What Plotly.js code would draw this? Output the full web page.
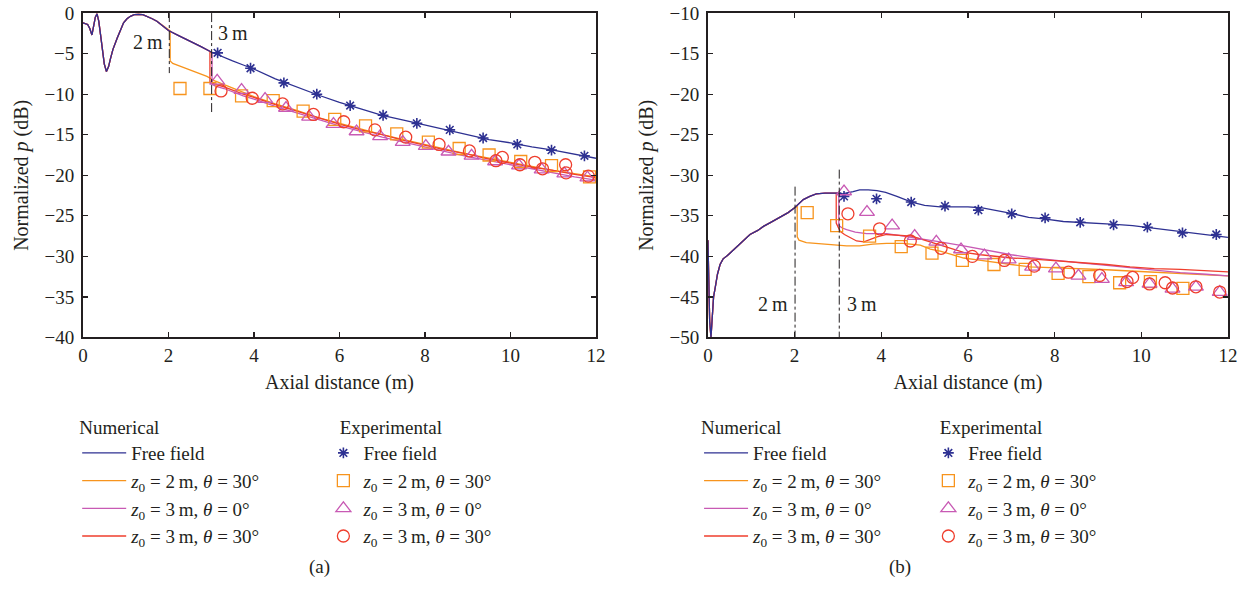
<!DOCTYPE html>
<html>
<head>
<meta charset="utf-8">
<script src="https://cdn.plot.ly/plotly-3.0.1.min.js"></script>
<style>html,body{margin:0;padding:0;background:#fff;}#chart{width:1251px;height:595px;}</style>
</head>
<body>
<div id="chart"></div>
<script>
// ---------- Panel (a) numerical ----------
const aPreX = [0, 0.06, 0.11, 0.16, 0.21, 0.25, 0.29, 0.33, 0.37, 0.41, 0.45, 0.5, 0.55, 0.6, 0.64, 0.7, 0.8, 0.88, 0.95, 1.03, 1.11, 1.2, 1.3, 1.4, 1.5, 1.62, 1.73, 1.86, 2.0];
const aPreY = [-1.2, -1.3, -1.4, -1.9, -2.7, -1.6, -0.5, -0.1, -1.0, -2.6, -4.3, -6.3, -7.2, -6.6, -5.7, -4.5, -3.1, -2.0, -1.2, -0.7, -0.4, -0.2, -0.15, -0.2, -0.4, -0.7, -1.0, -1.5, -2.15];
const aMidX = [2.25, 2.5, 2.75, 3.0];
const aMidY = [-2.8, -3.4, -4.1, -4.8];
const aFreeTailX = [3.25, 3.5, 3.75, 4.0, 4.5, 5.0, 5.5, 6.0, 6.5, 7.0, 7.5, 8.0, 8.5, 9.0, 9.5, 10.0, 10.5, 11.0, 11.5, 12.0];
const aFreeTailY = [-5.4, -5.9, -6.4, -6.9, -8.1, -9.1, -10.1, -11.0, -11.8, -12.6, -13.2, -13.8, -14.4, -15.0, -15.6, -16.0, -16.5, -16.9, -17.4, -17.9];
const aZ2T30TailX = [2.04, 2.04, 2.1, 2.3, 2.5, 2.7, 2.9, 3.1, 3.3, 3.5, 3.75, 4.0, 4.5, 5.0, 5.5, 6.0, 6.5, 7.0, 7.5, 8.0, 8.5, 9.0, 9.5, 10.0, 10.5, 11.0, 11.5, 12.0];
const aZ2T30TailY = [-2.2, -5.9, -6.2, -6.6, -7.0, -7.4, -7.8, -8.4, -8.8, -9.3, -9.8, -10.3, -11.2, -12.0, -12.9, -13.6, -14.3, -15.0, -15.6, -16.2, -16.8, -17.4, -17.9, -18.4, -18.9, -19.4, -19.8, -20.2];
const aZ3T0TailX = [3.02, 3.02, 3.1, 3.3, 3.5, 3.75, 4.0, 4.5, 5.0, 5.5, 6.0, 6.5, 7.0, 7.5, 8.0, 8.5, 9.0, 9.5, 10.0, 10.5, 11.0, 11.5, 12.0];
const aZ3T0TailY = [-4.85, -8.8, -9.0, -9.3, -9.7, -10.2, -10.6, -11.5, -12.3, -13.1, -13.9, -14.6, -15.3, -15.9, -16.5, -17.1, -17.7, -18.2, -18.7, -19.2, -19.7, -20.2, -20.6];
const aZ3T30TailX = [2.97, 2.97, 3.1, 3.3, 3.5, 3.75, 4.0, 4.5, 5.0, 5.5, 6.0, 6.5, 7.0, 7.5, 8.0, 8.5, 9.0, 9.5, 10.0, 10.5, 11.0, 11.5, 12.0];
const aZ3T30TailY = [-4.75, -8.5, -8.8, -9.1, -9.5, -10.0, -10.4, -11.3, -12.1, -12.9, -13.7, -14.4, -15.0, -15.7, -16.3, -16.9, -17.4, -18.0, -18.5, -19.0, -19.4, -19.9, -20.3];

// ---------- Panel (a) experimental ----------
const aExpFreeX = [3.15, 3.92, 4.70, 5.47, 6.25, 7.02, 7.81, 8.58, 9.36, 10.16, 10.96, 11.73];
const aExpFreeY = [-4.9, -6.8, -8.6, -10.0, -11.4, -12.6, -13.6, -14.4, -15.4, -16.2, -16.9, -17.6];
const aExpZ2T30X = [2.27, 2.97, 3.71, 4.45, 5.15, 5.89, 6.61, 7.34, 8.08, 8.80, 9.50, 10.24, 10.96, 11.85];
const aExpZ2T30Y = [-9.3, -9.3, -10.2, -10.8, -12.1, -13.1, -13.9, -14.9, -15.9, -16.7, -17.5, -18.3, -18.8, -20.2];
const aExpZ3T0X = [3.14, 3.71, 4.26, 4.75, 5.29, 5.86, 6.40, 6.95, 7.48, 8.02, 8.55, 9.09, 9.64, 10.20, 10.73, 11.26, 11.80];
const aExpZ3T0Y = [-8.35, -9.5, -10.6, -11.7, -12.8, -13.7, -14.6, -15.2, -15.9, -16.4, -17.1, -17.6, -18.3, -18.8, -19.3, -19.8, -20.3];
const aExpZ3T30X = [3.23, 3.96, 4.67, 5.39, 6.10, 6.83, 7.55, 8.33, 9.04, 9.66, 9.81, 10.22, 10.57, 10.75, 11.29, 11.30, 11.82];
const aExpZ3T30Y = [-9.6, -10.5, -11.2, -12.5, -13.4, -14.4, -15.3, -16.2, -17.0, -18.2, -17.8, -18.7, -18.4, -19.2, -18.7, -19.7, -20.1];

// ---------- Panel (b) numerical ----------
const bPreX = [0, 0.02, 0.04, 0.07, 0.1, 0.13, 0.17, 0.22, 0.28, 0.35, 0.45, 0.59, 0.75, 0.97, 1.15, 1.28, 1.45, 1.66, 1.85, 2.0];
const bPreY = [-38.0, -43, -48, -50, -47, -45, -43.8, -42.2, -41.0, -40.3, -39.9, -39.2, -38.3, -37.3, -36.8, -36.3, -35.8, -35.2, -34.6, -34.0];
const bMidX = [2.1, 2.2, 2.35, 2.5, 2.7, 2.9, 3.0];
const bMidY = [-33.5, -33.0, -32.6, -32.3, -32.2, -32.2, -32.2];
const bFreeTailX = [3.1, 3.2, 3.35, 3.5, 3.7, 3.9, 4.1, 4.36, 4.7, 5.0, 5.36, 5.7, 6.0, 6.3, 6.6, 7.0, 7.4, 7.8, 8.2, 8.6, 9.0, 9.4, 9.8, 10.2, 10.6, 11.0, 11.4, 11.7, 12.0];
const bFreeTailY = [-32.3, -32.2, -32.0, -31.8, -31.8, -31.9, -32.1, -32.6, -33.3, -33.7, -33.9, -33.9, -33.9, -34.0, -34.3, -34.7, -35.2, -35.4, -35.7, -35.8, -35.9, -36.05, -36.2, -36.45, -36.7, -37.0, -37.2, -37.4, -37.65];
const bZ2T30TailX = [2.06, 2.06, 2.1, 2.27, 2.5, 2.9, 3.2, 3.5, 3.8, 4.12, 4.5, 4.9, 5.13, 5.36, 5.6, 5.9, 6.3, 6.67, 7.0, 7.44, 8.0, 8.59, 9.2, 9.74, 10.3, 10.9, 11.5, 12.0];
const bZ2T30TailY = [-33.8, -37.6, -38.0, -38.3, -38.4, -38.6, -38.7, -38.7, -38.5, -38.4, -38.4, -38.6, -39.1, -39.35, -39.7, -40.2, -40.5, -40.8, -41.0, -41.3, -41.4, -41.5, -41.65, -41.8, -41.95, -42.1, -42.25, -42.4];
const bZ3T0TailX = [3.02, 3.02, 3.1, 3.2, 3.4, 3.66, 3.9, 4.12, 4.4, 4.67, 5.0, 5.36, 5.9, 6.3, 6.67, 7.0, 7.44, 8.0, 8.59, 9.2, 9.74, 10.3, 10.9, 11.5, 12.0];
const bZ3T0TailY = [-32.2, -36.2, -36.5, -36.7, -37.0, -37.2, -37.2, -37.2, -37.4, -37.6, -37.9, -38.2, -38.7, -39.1, -39.5, -39.8, -40.15, -40.5, -40.8, -41.1, -41.4, -41.7, -42.0, -42.2, -42.4];
const bZ3T30TailX = [2.96, 2.96, 3.0, 3.05, 3.15, 3.28, 3.43, 3.6, 3.74, 3.9, 4.12, 4.4, 4.7, 5.05, 5.4, 5.9, 6.3, 6.67, 7.0, 7.44, 8.0, 8.59, 9.2, 9.74, 10.3, 10.9, 11.5, 12.0];
const bZ3T30TailY = [-32.2, -35.9, -36.4, -36.9, -37.3, -37.7, -38.1, -38.2, -37.9, -37.6, -37.3, -37.4, -37.5, -38.1, -38.7, -39.5, -39.8, -40.05, -40.2, -40.3, -40.5, -40.7, -41.0, -41.3, -41.5, -41.6, -41.75, -41.9];

// ---------- Panel (b) experimental ----------
const bExpFreeX = [3.14, 3.89, 4.69, 5.47, 6.24, 7.01, 7.78, 8.59, 9.36, 10.14, 10.95, 11.73];
const bExpFreeY = [-32.6, -32.9, -33.3, -33.8, -34.3, -34.75, -35.25, -35.8, -36.1, -36.4, -37.1, -37.3];
const bExpZ2T30X = [2.29, 2.97, 3.73, 4.46, 5.17, 5.87, 6.60, 7.32, 8.08, 8.79, 9.50, 10.21, 10.96];
const bExpZ2T30Y = [-34.6, -36.2, -37.5, -38.8, -39.6, -40.5, -41.0, -41.6, -42.1, -42.5, -43.25, -43.1, -43.95];
const bExpZ3T0X = [3.14, 3.67, 4.25, 4.77, 5.27, 5.84, 6.38, 6.94, 7.48, 8.03, 8.55, 9.09, 9.65, 10.19, 10.72, 11.26, 11.81];
const bExpZ3T0Y = [-32.0, -34.55, -36.2, -37.5, -38.2, -39.15, -39.9, -40.4, -41.3, -41.5, -42.4, -42.8, -43.2, -43.4, -44.0, -43.75, -44.4];
const bExpZ3T30X = [3.23, 3.96, 4.67, 5.38, 6.10, 6.84, 7.53, 8.32, 9.04, 9.67, 9.80, 10.19, 10.55, 10.72, 11.26, 11.81];
const bExpZ3T30Y = [-34.75, -36.6, -38.1, -39.0, -40.0, -40.5, -41.2, -41.95, -42.35, -43.1, -42.6, -43.4, -43.25, -43.9, -43.75, -44.4];

// ---------- Labels ----------
const seriesNames = ['Free field', '<i>z</i><sub>0</sub> = 2\u2009m, <i>θ</i> = 30°', '<i>z</i><sub>0</sub> = 3\u2009m, <i>θ</i> = 0°', '<i>z</i><sub>0</sub> = 3\u2009m, <i>θ</i> = 30°'];
const xTitle = 'Axial distance (m)';
const yTitle = 'Normalized <i>p</i> (dB)';
const panelLabels = ['(a)', '(b)'];
const markerLabels = ['2\u2009m', '3\u2009m'];
const legendTitles = ['Numerical', 'Experimental'];

const colors = ['#2e3192', '#f7941d', '#c85ab4', '#ef3e2d'];
const symbols = ['asterisk-open', 'square-open', 'triangle-up-open', 'circle-open'];
const msizes = [9, 12, 13, 12];

function cat(){ return [].concat(...arguments); }

const numA = [
  [cat(aPreX, aMidX, aFreeTailX), cat(aPreY, aMidY, aFreeTailY)],
  [cat(aPreX, aZ2T30TailX), cat(aPreY, aZ2T30TailY)],
  [cat(aPreX, aMidX, aZ3T0TailX), cat(aPreY, aMidY, aZ3T0TailY)],
  [cat(aPreX, aMidX, aZ3T30TailX), cat(aPreY, aMidY, aZ3T30TailY)]
];
const expA = [[aExpFreeX, aExpFreeY], [aExpZ2T30X, aExpZ2T30Y], [aExpZ3T0X, aExpZ3T0Y], [aExpZ3T30X, aExpZ3T30Y]];
const numB = [
  [cat(bPreX, bMidX, bFreeTailX), cat(bPreY, bMidY, bFreeTailY)],
  [cat(bPreX, bZ2T30TailX), cat(bPreY, bZ2T30TailY)],
  [cat(bPreX, bMidX, bZ3T0TailX), cat(bPreY, bMidY, bZ3T0TailY)],
  [cat(bPreX, bMidX, bZ3T30TailX), cat(bPreY, bMidY, bZ3T30TailY)]
];
const expB = [[bExpFreeX, bExpFreeY], [bExpZ2T30X, bExpZ2T30Y], [bExpZ3T0X, bExpZ3T0Y], [bExpZ3T30X, bExpZ3T30Y]];

const traces = [];
function addPanel(num, exp, xa, ya, legNum, legExp){
  const lineTraces = num.map((d, i) => ({
    x: d[0], y: d[1], type: 'scatter', mode: 'lines', name: seriesNames[i],
    line: {color: colors[i], width: 1.3}, xaxis: xa, yaxis: ya, legend: legNum, legendrank: i + 1
  }));
  // blue drawn last so it sits on top in the shared region
  traces.push(lineTraces[1], lineTraces[2], lineTraces[3], lineTraces[0]);
  exp.forEach((d, i) => traces.push({
    x: d[0], y: d[1], type: 'scatter', mode: 'markers', name: seriesNames[i],
    marker: {symbol: symbols[i], size: msizes[i], color: colors[i], line: {color: colors[i], width: i === 0 ? 1.6 : 1.3}},
    xaxis: xa, yaxis: ya, legend: legExp, legendrank: i + 1
  }));
}
addPanel(numA, expA, 'x', 'y', 'legend', 'legend2');
addPanel(numB, expB, 'x2', 'y2', 'legend3', 'legend4');

const ink = '#231f20';
const fontFam = 'Liberation Serif, DejaVu Serif, serif';
function xax(domain){
  return {domain: domain, range: [0, 12], dtick: 2, tick0: 0, ticks: 'inside', ticklen: 5, tickwidth: 1.3, tickcolor: ink,
    showline: true, linecolor: ink, linewidth: 2, mirror: 'ticks', showgrid: false, zeroline: false,
    tickfont: {size: 19}, title: {text: xTitle, font: {size: 20}, standoff: 10}, automargin: false};
}
function yax(range, anchor){
  return {domain: [0.4328, 0.978], range: range, dtick: 5, ticks: 'inside', ticklen: 5, tickwidth: 1.3, tickcolor: ink,
    showline: true, linecolor: ink, linewidth: 2, mirror: 'ticks', showgrid: false, zeroline: false, anchor: anchor,
    ticklabelstandoff: 3,
    tickfont: {size: 19}, title: {text: yTitle, font: {size: 20}, standoff: 10}, automargin: false};
}
function leg(x, title, iw){
  return {x: x, y: 0.312, xanchor: 'left', yanchor: 'top', bgcolor: 'rgba(0,0,0,0)', traceorder: 'normal',
    font: {size: 19, color: ink, family: fontFam}, title: {text: title, font: {size: 19, color: ink, family: fontFam}}, itemwidth: iw};
}
const dashLine = {color: ink, width: 1, dash: 'dashdot'};
const layout = {
  width: 1251, height: 595, margin: {l: 0, r: 0, t: 0, b: 0},
  paper_bgcolor: '#fff', plot_bgcolor: '#fff',
  font: {family: fontFam, size: 19, color: ink},
  showlegend: true,
  xaxis: xax([0.0663, 0.4764]),
  yaxis: yax([-40, 0], 'x'),
  xaxis2: Object.assign(xax([0.5659, 0.9816]), {anchor: 'y2'}),
  yaxis2: yax([-50, -10], 'x2'),
  legend: leg(0.0617, legendTitles[0], 44),
  legend2: leg(0.2585, '\u00a0\u00a0\u00a0' + legendTitles[1], 30),
  legend3: leg(0.5588, legendTitles[0], 44),
  legend4: leg(0.7421, '\u00a0\u00a0' + legendTitles[1], 30),
  shapes: [
    {type: 'line', xref: 'x', yref: 'y', x0: 2.02, x1: 2.02, y0: 0, y1: -7.4, line: dashLine},
    {type: 'line', xref: 'x', yref: 'y', x0: 3.01, x1: 3.01, y0: 0, y1: -12.2, line: dashLine},
    {type: 'line', xref: 'x2', yref: 'y2', x0: 2.01, x1: 2.01, y0: -31.4, y1: -50, line: dashLine},
    {type: 'line', xref: 'x2', yref: 'y2', x0: 3.03, x1: 3.03, y0: -29.3, y1: -50, line: dashLine}
  ],
  annotations: [
    {xref: 'x', yref: 'y', x: 1.51, y: -3.6, text: markerLabels[0], showarrow: false, font: {size: 20}},
    {xref: 'x', yref: 'y', x: 3.51, y: -2.5, text: markerLabels[1], showarrow: false, font: {size: 20}},
    {xref: 'x2', yref: 'y2', x: 1.5, y: -45.9, text: markerLabels[0], showarrow: false, font: {size: 20}},
    {xref: 'x2', yref: 'y2', x: 3.55, y: -45.9, text: markerLabels[1], showarrow: false, font: {size: 20}},
    {xref: 'paper', yref: 'paper', x: 0.2454, y: 0.0252, text: panelLabels[0], showarrow: false, font: {size: 19}},
    {xref: 'paper', yref: 'paper', x: 0.7298, y: 0.0252, text: panelLabels[1], showarrow: false, font: {size: 19}}
  ]
};
Plotly.newPlot('chart', traces, layout, {displayModeBar: false, staticPlot: true});
</script>
</body>
</html>
